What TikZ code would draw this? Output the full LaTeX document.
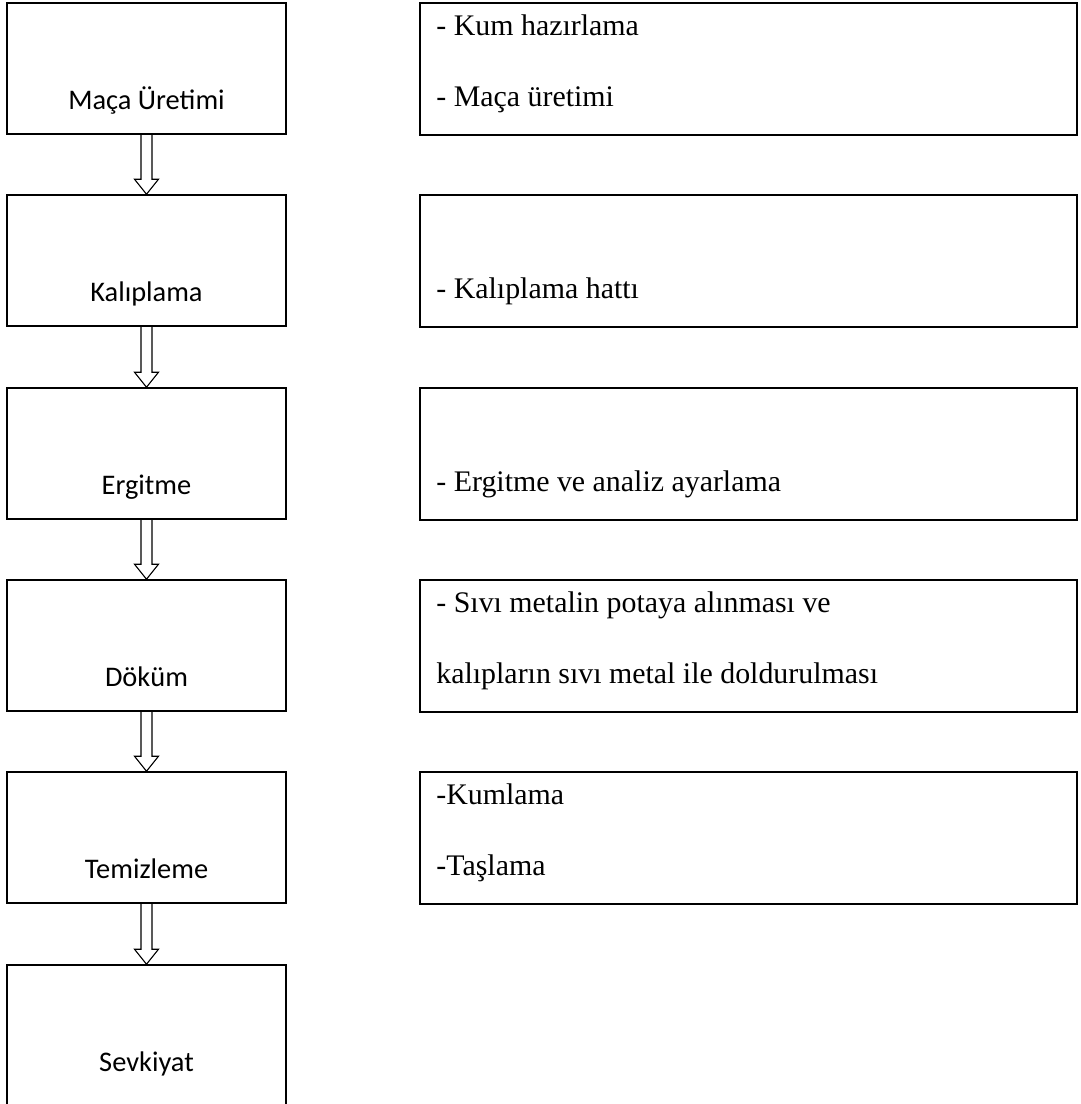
\documentclass[tikz,border=0pt]{standalone}
\usepackage{fontspec}
\setmainfont{Liberation Serif}
\newfontfamily\boxfont{Carlito}
\usetikzlibrary{positioning,calc}
\tikzset{stepbox/.style={draw,line width=1.6bp,minimum width=279bp,minimum height=131bp,inner sep=0pt},
 notebox/.style={draw,line width=1.6bp,minimum width=657bp,minimum height=132bp,inner sep=0pt},
 steptext/.style={font=\boxfont\fontsize{28.5}{34}\selectfont,inner sep=0pt,anchor=base},
 notetext/.style={font=\fontsize{30}{36}\selectfont,inner sep=0pt,anchor=base west},
 hollow/.style={draw,line width=1.1bp},
 }
\newcommand\hollowarrow[2]{%
  \draw[hollow] ($(#1.south)+(-5.5,0)$) -- ($(#2.north)+(-5.5,-15)$) -- ($(#2.north)+(-12,-15)$)
    -- (#2.north) -- ($(#2.north)+(12,-15)$) -- ($(#2.north)+(5.5,-15)$) -- ($(#1.south)+(5.5,0)$);}

\begin{document}
\begin{tikzpicture}[x=1bp,y=-1bp]
        \useasboundingbox (0,0) rectangle (1081,1104);
        \clip (0,0) rectangle (1081,1104);
        % process steps
        \node[stepbox] (mac) at (146.5, 68.5) {};
        \node[stepbox] (kal) at (146.5, 260.5) {};
        \node[stepbox] (erg) at (146.5, 453.5) {};
        \node[stepbox] (dok) at (146.5, 645.5) {};
        \node[stepbox] (tem) at (146.5, 837.5) {};
        \node[stepbox, minimum height=140bp] (sev) at (146.5, 1035) {};
        \node[steptext] at ($(mac.north)+(0,107)$) {Maça Üretimi};
        \node[steptext] at ($(kal.north)+(0,107)$) {Kalıplama};
        \node[steptext] at ($(erg.north)+(0,107)$) {Ergitme};
        \node[steptext] at ($(dok.north)+(0,107)$) {Döküm};
        \node[steptext] at ($(tem.north)+(0,107)$) {Temizleme};
        \node[steptext] at ($(sev.north)+(0,107)$) {Sevkiyat};
        % notes
        \node[notebox] (macN) at (748.5, 69) {};
        \node[notebox] (kalN) at (748.5, 261) {};
        \node[notebox] (ergN) at (748.5, 454) {};
        \node[notebox] (dokN) at (748.5, 646) {};
        \node[notebox] (temN) at (748.5, 838) {};
        \node[notetext] at ($(macN.north west)+(17,33)$) {- Kum hazırlama};
        \node[notetext] at ($(macN.north west)+(17,104)$) {- Maça üretimi};
        \node[notetext] at ($(kalN.north west)+(17,104)$) {- Kalıplama hattı};
        \node[notetext] at ($(ergN.north west)+(17,104)$) {- Ergitme ve analiz ayarlama};
        \node[notetext] at ($(dokN.north west)+(17,33)$) {- Sıvı metalin potaya alınması ve};
        \node[notetext] at ($(dokN.north west)+(17,104)$) {kalıpların sıvı metal ile doldurulması};
        \node[notetext] at ($(temN.north west)+(17,33)$) {-Kumlama};
        \node[notetext] at ($(temN.north west)+(17,104)$) {-Taşlama};
        % arrows
        \hollowarrow{mac}{kal}
        \hollowarrow{kal}{erg}
        \hollowarrow{erg}{dok}
        \hollowarrow{dok}{tem}
        \hollowarrow{tem}{sev}
    \end{tikzpicture}
\end{document}
